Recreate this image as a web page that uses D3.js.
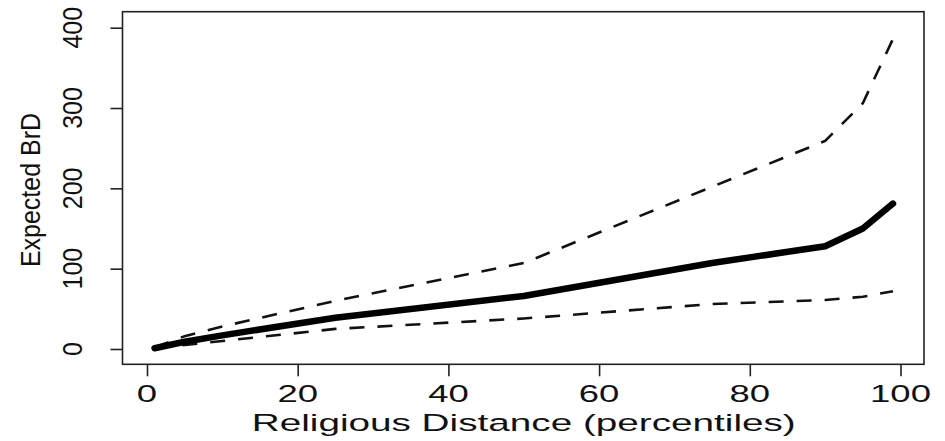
<!DOCTYPE html>
<html>
<head>
<meta charset="utf-8">
<script src="https://cdn.jsdelivr.net/npm/d3@7"></script>
<style>
  html, body { margin: 0; padding: 0; background: #fff; }
  svg { display: block; }
  text { font-family: "Liberation Sans", Arial, Helvetica, sans-serif; fill: #111; }
</style>
</head>
<body>
<svg id="chart" width="945" height="441"></svg>
<script>
// Religious distance percentiles at which the prediction is evaluated
const percentiles = [1, 5, 10, 25, 50, 75, 90, 95, 99];
// Expected BrD (point estimate) and its confidence bounds
const expected = [1, 9, 17, 39, 66, 107, 128, 150, 181];
const upperBound = [2, 16, 28, 60, 107, 202, 259, 306, 386];
const lowerBound = [1, 5, 10, 25, 38, 56, 61, 65, 72];
// Axis ticks and titles
const xTicks = [0, 20, 40, 60, 80, 100];
const yTicks = [0, 100, 200, 300, 400];
const xTitle = "Religious Distance (percentiles)";
const yTitle = "Expected BrD";

const svg = d3.select("#chart");

const frame = { left: 122.5, right: 924, top: 11.7, bottom: 364.3 };
const x = d3.scaleLinear().domain([0, 100]).range([147, 900.5]);
const y = d3.scaleLinear().domain([0, 400]).range([349, 27.7]);

// plot frame
svg.append("rect")
  .attr("x", frame.left).attr("y", frame.top)
  .attr("width", frame.right - frame.left)
  .attr("height", frame.bottom - frame.top)
  .attr("fill", "none").attr("stroke", "#222").attr("stroke-width", 1.6);

// x axis: ticks hang below the frame, labels are wide-set
const xAxis = svg.append("g").attr("transform", `translate(0,${frame.bottom})`)
  .call(d3.axisBottom(x).tickValues(xTicks).tickSize(12).tickSizeOuter(0).tickFormat(""));
xAxis.select(".domain").remove();
xAxis.selectAll(".tick line").attr("stroke", "#222").attr("stroke-width", 1.6);

svg.append("g").selectAll("text").data(xTicks).join("text")
  .attr("transform", d => `translate(${x(d)},402) scale(1.52,1)`)
  .attr("text-anchor", "middle")
  .attr("font-size", 24)
  .text(d => d);

svg.append("text")
  .attr("transform", `translate(${(x(0) + x(100)) / 2},431) scale(1.58,1)`)
  .attr("text-anchor", "middle")
  .attr("font-size", 24.5)
  .text(xTitle);

// y axis: ticks to the left of the frame, labels rotated
const yAxis = svg.append("g").attr("transform", `translate(${frame.left},0)`)
  .call(d3.axisLeft(y).tickValues(yTicks).tickSize(12).tickSizeOuter(0).tickFormat(""));
yAxis.select(".domain").remove();
yAxis.selectAll(".tick line").attr("stroke", "#222").attr("stroke-width", 1.6);

svg.append("g").selectAll("text").data(yTicks).join("text")
  .attr("transform", d => `translate(82,${y(d)}) scale(1.1,1) rotate(-90)`)
  .attr("text-anchor", "middle")
  .attr("font-size", 25)
  .text(d => d);

svg.append("text")
  .attr("transform", `translate(40,190) scale(1.12,1) rotate(-90)`)
  .attr("text-anchor", "middle")
  .attr("font-size", 25)
  .text(yTitle);

// series
const line = d3.line().x(d => x(d[0])).y(d => y(d[1]));
const pairs = vals => percentiles.map((p, i) => [p, vals[i]]);

svg.append("path").datum(pairs(upperBound))
  .attr("d", line).attr("fill", "none").attr("stroke", "#111")
  .attr("stroke-width", 2.6).attr("stroke-dasharray", "15,13");

svg.append("path").datum(pairs(lowerBound))
  .attr("d", line).attr("fill", "none").attr("stroke", "#111")
  .attr("stroke-width", 2.6).attr("stroke-dasharray", "15,13");

svg.append("path").datum(pairs(expected))
  .attr("d", line).attr("fill", "none").attr("stroke", "#000")
  .attr("stroke-width", 6.5).attr("stroke-linejoin", "round").attr("stroke-linecap", "round");
</script>
</body>
</html>
